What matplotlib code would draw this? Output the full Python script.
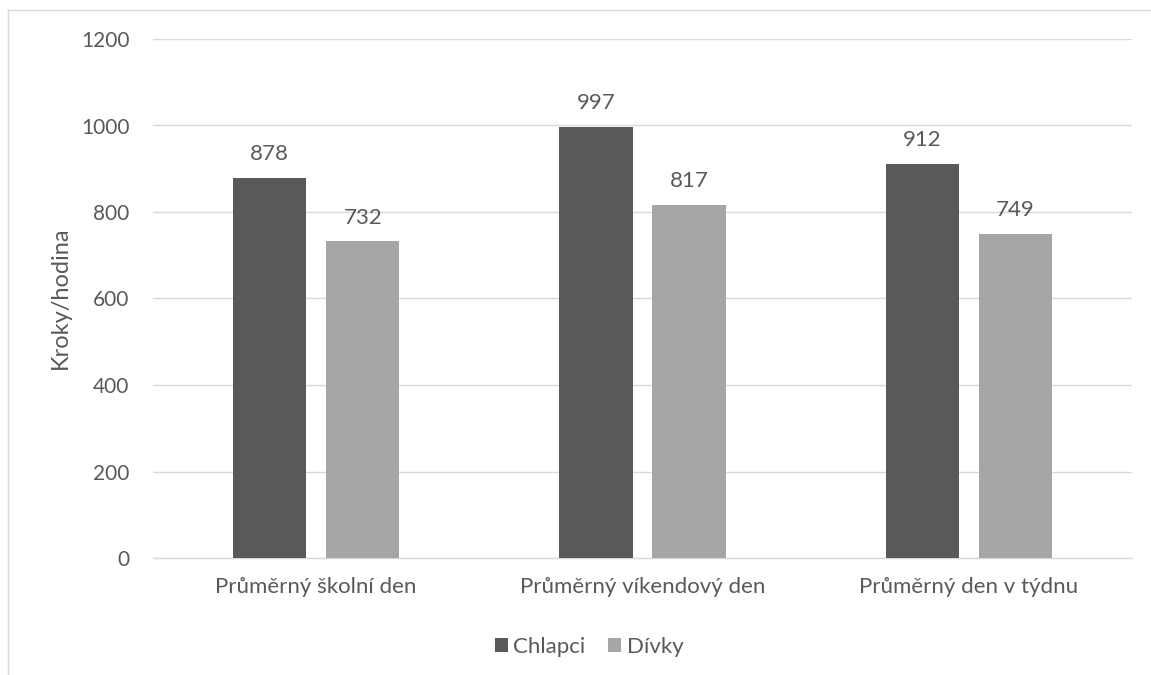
import matplotlib
matplotlib.use("Agg")
import matplotlib.pyplot as plt
from matplotlib.lines import Line2D
from matplotlib.patches import Patch
import numpy as np

categories = ["Průměrný školní den", "Průměrný víkendový den", "Průměrný den v týdnu"]
chlapci = [878, 997, 912]
divky = [732, 817, 749]
series_names = ["Chlapci", "Dívky"]
yticks = [0, 200, 400, 600, 800, 1000, 1200]

dark = "#595959"
light = "#A6A6A6"
text_col = "#595959"
grid_col = "#D9D9D9"

plt.rcParams['font.family'] = ['Lato', 'DejaVu Sans']

W, H = 1151, 675
fig = plt.figure(figsize=(W / 100, H / 100), dpi=100)
ax = fig.add_axes([153 / W, 1 - 558 / H, (1132 - 153) / W, (558 - 39) / H])

x = np.arange(len(categories))
bw = 0.224
off = (bw + 0.061) / 2
b1 = ax.bar(x - off, chlapci, bw, color=dark, zorder=3)
b2 = ax.bar(x + off, divky, bw, color=light, zorder=3)

for bars, vals in ((b1, chlapci), (b2, divky)):
    for r, v in zip(bars, vals):
        ax.annotate(f"{v}", (r.get_x() + r.get_width() / 2, v),
                    xytext=(0, 10), textcoords="offset points",
                    ha="center", va="bottom", fontsize=16, color=text_col)

ax.set_xlim(-0.5, len(categories) - 0.5)
ax.set_ylim(0, 1200)
ax.set_yticks(yticks)
ax.set_yticklabels([str(t) for t in yticks])
ax.set_xticks(x)
ax.set_xticklabels(categories)
ax.tick_params(axis="both", length=0, labelsize=16, colors=text_col)
ax.tick_params(axis="y", labelsize=15, pad=17)
ax.tick_params(axis="x", pad=14)
ax.yaxis.grid(True, color=grid_col, linewidth=1.0, zorder=0)
for s in ("top", "right", "left"):
    ax.spines[s].set_visible(False)
ax.spines["bottom"].set_color(grid_col)
ax.spines["bottom"].set_linewidth(1.0)

fig.text(60 / W, 1 - 298 / H, "Kroky/hodina", rotation=90, ha="center", va="center",
         fontsize=17, color=text_col)

handles = [Patch(facecolor=dark), Patch(facecolor=light)]
fig.legend(handles, series_names, loc="center", bbox_to_anchor=(589 / W, 1 - 647 / H),
           ncol=2, frameon=False, fontsize=16, labelcolor=text_col,
           handlelength=0.6, handleheight=0.6, handletextpad=0.25, columnspacing=1.0)

# chart area frame
fig.add_artist(Line2D([8 / W, 1.0], [1 - 10 / H, 1 - 10 / H], color=grid_col, lw=1.0))
fig.add_artist(Line2D([8 / W, 8 / W], [0.0, 1 - 10 / H], color=grid_col, lw=1.0))

fig.savefig("out.png", dpi=100, facecolor="white")
